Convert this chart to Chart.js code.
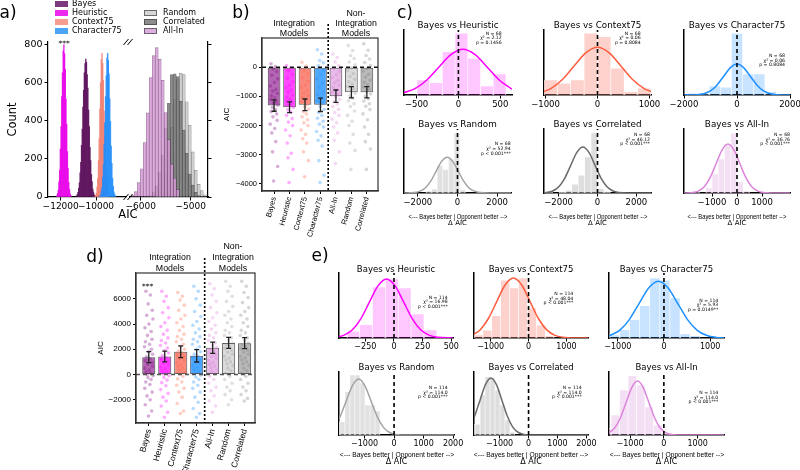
<!DOCTYPE html>
<html><head><meta charset="utf-8">
<script src="https://cdn.jsdelivr.net/npm/chart.js"></script>
<style>
html,body{margin:0;padding:0;background:#fff;}
#root{position:relative;width:800px;height:470px;overflow:hidden;background:#fff;}
canvas{position:absolute;}
.t{position:absolute;white-space:nowrap;line-height:1;color:#000;}
</style></head><body><div id="root"></div>
<script>
// ================= DATA =================
// a) bootstrap AIC histograms (bin centres step, counts)
const aLeftXTicks = [-12000, -10000];
const aRightXTicks = [-6000, -5000];
const aYTicks = [0, 200, 400, 600, 800];
const aBinWidthLeft = 40, aBinWidthRight = 60;
const heuristicFirst = -12220;
const heuristicCounts = [6, 18, 36, 80, 140, 250, 368, 525, 650, 765, 796, 750, 668, 512, 380, 238, 150, 75, 40, 16, 7];
const bayesFirst = -11100;
const bayesCounts = [6, 14, 24, 47, 75, 126, 182, 270, 355, 470, 558, 650, 698, 722, 705, 640, 570, 455, 368, 260, 190, 118, 80, 42, 26, 12, 6];
const context75First = -10060;
const context75Counts = [3, 9, 20, 52, 98, 190, 305, 460, 598, 720, 752, 700, 610, 450, 312, 180, 105, 48, 22, 8, 3];
const character75First = -9780;
const character75Counts = [5, 12, 30, 52, 104, 170, 276, 388, 525, 634, 728, 752, 715, 645, 515, 395, 266, 176, 98, 56, 27, 14, 5];
const allInFirst = -6160;
const allInCounts = [10, 28, 75, 148, 285, 440, 625, 740, 782, 720, 610, 442, 300, 172, 98, 40];
const correlatedFirst = -5800;
const correlatedCounts = [8, 26, 58, 128, 220, 360, 490, 640, 645, 630, 500, 350, 228, 120, 62, 24, 8];
const randomFirst = -5680;
const randomCounts = [10, 30, 72, 132, 245, 365, 510, 615, 647, 640, 498, 375, 236, 140, 66, 34, 12];

// b) / d) model AIC relative values
const modelCats = ['Bayes', 'Heuristic', 'Context75', 'Character75', 'All-In', 'Random', 'Correlated'];
const groupDivider = 3.5;
const baseline = 0;
const bYTicks = [0, -1000, -2000, -3000, -4000];
const bMeans = [-1313, -1370, -1290, -1290, -993, -856, -856];
const bErr = [195, 183, 200, 228, 212, 194, 194];
const bBayes = [120, 20, -60, -150, -280, -400, -520, -640, -760, -820, -900, -980, -1050, -1100, -1180, -1240, -1300, -1380, -1450, -1520, -1600, -1700, -1820, -1950, -2100, -2250, -2550, -2900, -3400, -3900];
const bHeuristic = [60, -30, -120, -250, -380, -500, -620, -700, -780, -850, -950, -1020, -1100, -1160, -1220, -1300, -1380, -1460, -1540, -1650, -1760, -1880, -2000, -2150, -2350, -2600, -2950, -3100, -3500, -3950];
const bContext75 = [170, 40, -100, -230, -360, -480, -600, -700, -800, -880, -960, -1040, -1120, -1200, -1280, -1350, -1430, -1520, -1600, -1700, -1800, -1900, -2000, -2150, -2300, -2450, -2600, -2900, -3200, -3750];
const bCharacter75 = [600, 450, 230, 150, 50, -100, -250, -400, -550, -700, -850, -950, -1050, -1150, -1250, -1350, -1450, -1550, -1650, -1750, -1850, -1950, -2050, -2200, -2350, -2500, -2700, -3200, -3700, -3950];
const bAllIn = [450, 330, 180, 60, -50, -150, -260, -360, -450, -530, -620, -700, -780, -860, -940, -1020, -1100, -1180, -1260, -1350, -1450, -1550, -1650, -1780, -1900, -2050, -2250, -2500, -2900, -3300];
const bRandom = [740, 570, 400, 300, 180, 80, -20, -120, -220, -320, -420, -500, -580, -660, -740, -820, -900, -980, -1060, -1150, -1250, -1350, -1500, -1650, -1850, -2000, -2300, -2600, -2850, -3500];
const bCorrelated = [800, 580, 400, 280, 160, 60, -40, -140, -240, -340, -440, -520, -600, -680, -760, -840, -920, -1000, -1080, -1160, -1250, -1340, -1450, -1600, -1800, -2050, -2300, -2550, -2800, -3500];
const bJitter = [-0.2, 0.08, -0.05, 0.18, -0.14, 0.23, 0.02, -0.24, 0.12, -0.09, 0.21, -0.17, 0.05, -0.22, 0.15, -0.02, 0.24, -0.11, 0.09, -0.19, 0.17, -0.07, 0.2, -0.25, 0.04, -0.15, 0.11, -0.1, 0.23, -0.03];

const dYTicks = [-2000, 0, 2000, 4000, 6000];
const dMeans = [1376, 1429, 1800, 1480, 2120, 2500, 2480];
const dErr = [436, 423, 463, 490, 450, 437, 437];
const dBayes = [6600, 6300, 5600, 5100, 4700, 4400, 4000, 3700, 3400, 3100, 2800, 2600, 2400, 2200, 2000, 1800, 1600, 1400, 1250, 1100, 950, 800, 650, 500, 350, 200, 100, 0, -100, -250, -400, -600, -800, -1100, -1400, -1700, -2000, -2400, -2900, -3300];
const dHeuristic = [6600, 6200, 5800, 5300, 4900, 4500, 4100, 3800, 3500, 3200, 2900, 2700, 2500, 2300, 2100, 1900, 1700, 1500, 1350, 1200, 1050, 900, 750, 600, 450, 300, 150, 50, -100, -250, -450, -650, -900, -1200, -1500, -1800, -2100, -2500, -3000, -3400];
const dContext75 = [6500, 6200, 5900, 5500, 5100, 4700, 4400, 4100, 3800, 3500, 3200, 3000, 2800, 2600, 2400, 2200, 2000, 1850, 1700, 1550, 1400, 1250, 1100, 950, 800, 650, 500, 350, 200, 50, -150, -350, -600, -850, -1100, -1400, -1800, -2300, -2900, -3100];
const dCharacter75 = [7000, 6600, 6000, 5500, 5000, 4600, 4200, 3900, 3600, 3300, 3000, 2800, 2600, 2400, 2200, 2000, 1800, 1600, 1450, 1300, 1150, 1000, 850, 700, 550, 400, 250, 100, -50, -200, -400, -600, -850, -1100, -1400, -1800, -2200, -2700, -3100, -3400];
const dAllIn = [7200, 6800, 6300, 5800, 5300, 4900, 4500, 4200, 3900, 3600, 3300, 3100, 2900, 2700, 2500, 2300, 2150, 2000, 1850, 1700, 1550, 1400, 1250, 1100, 950, 800, 650, 500, 350, 200, 50, -150, -400, -700, -1000, -1300, -1700, -2100, -2500, -3000];
const dRandom = [7400, 7000, 6600, 6200, 5800, 5400, 5000, 4700, 4400, 4100, 3800, 3500, 3300, 3100, 2900, 2700, 2500, 2350, 2200, 2050, 1900, 1750, 1600, 1450, 1300, 1150, 1000, 850, 700, 500, 300, 100, -150, -400, -700, -1000, -1300, -1600, -2000, -2400];
const dCorrelated = [7400, 7000, 6500, 6100, 5700, 5300, 5000, 4700, 4400, 4100, 3800, 3500, 3300, 3100, 2900, 2700, 2500, 2350, 2200, 2050, 1900, 1750, 1600, 1450, 1300, 1150, 1000, 850, 700, 500, 300, 100, -150, -400, -700, -1000, -1300, -1600, -1900, -2100];
const dJitter = [-0.18, 0.1, -0.04, 0.22, -0.13, 0.26, 0.01, -0.24, 0.15, -0.08, 0.2, -0.21, 0.05, -0.27, 0.17, -0.01, 0.24, -0.15, 0.08, -0.23, 0.19, -0.06, 0.23, -0.26, 0.03, -0.17, 0.12, -0.1, 0.27, -0.05, 0.14, -0.19, 0.07, -0.25, 0.21, -0.11, 0.09, -0.22, 0.18, -0.02];

// c) / e) pairwise delta-AIC histograms with normal fits
const compNames = ['Heuristic', 'Context75', 'Character75', 'Random', 'Correlated', 'All-In'];
const refX = 0;
const cXRange = [[-650, 640], [-1030, 1030], [-2000, 2000], [-2700, 2700], [-2750, 2750], [-2120, 2120]];
const cXTicks = [[-500, 0, 500], [-1000, 0, 1000], [-2000, 0, 2000], [-2000, 0, 2000], [-2000, 0, 2000], [-1000, 0, 1000]];
const cBinFirst = [-420, -900, -1680, -2308.5, -2475, -1625];
const cBinWidth = [152, 257, 420, 285, 330, 250];
const cHeights1 = [15, 12.3, 43.3, 61.7, 36.7, 9, 21];
const cHeights2 = [15, 11.7, 15, 61.7, 58.3, 26.7, 3.3, 6.7];
const cHeights3 = [1.7, 1.7, 9, 7.7, 61.7, 21, 21, 3.3];
const cHeights4 = [1, 0, 0, 2, 4, 27.5, 23.5, 34, 60, 3];
const cHeights5 = [1.7, 0, 1, 2.7, 8.7, 17.7, 36, 60, 4.3, 1.5];
const cHeights6 = [1.7, 0, 5, 19, 34, 49, 60, 11, 2];
const cFitX1 = [-650, -525, -380, -235, -90, 55, 200, 345, 490, 640];
const cFitY1 = [2.4, 6.2, 14.8, 27.7, 40.3, 45.7, 40.3, 27.7, 14.8, 5.9];
const cFitX2 = [-1030, -900, -675, -450, -225, 0, 225, 450, 675, 900, 1030];
const cFitY2 = [3.5, 6.4, 15.5, 29, 42.1, 47.7, 42.1, 29, 15.5, 6.4, 3.5];
const cFitX3 = [-2000, -1500, -1000, -750, -500, -250, 0, 250, 500, 750, 1000, 1500, 2000];
const cFitY3 = [0, 0.3, 4.2, 10.1, 18.8, 27.4, 31, 27.4, 18.8, 10.1, 4.2, 0.3, 0];
const cFitX4 = [-2700, -2200, -1920, -1640, -1360, -1080, -800, -520, -240, 40, 320, 600, 880, 1160, 1600, 2700];
const cFitY4 = [0, 0.4, 1.6, 4.8, 11.6, 21.7, 31.6, 35.8, 31.6, 21.7, 11.6, 4.8, 1.6, 0.4, 0, 0];
const cFitX5 = [-2750, -2610, -2300, -1990, -1680, -1370, -1060, -750, -440, -130, 180, 490, 800, 1110, 1500, 2750];
const cFitY5 = [0.2, 0.5, 2, 6.2, 14.9, 27.9, 40.6, 46, 40.6, 27.9, 14.9, 6.2, 2, 0.5, 0, 0];
const cFitX6 = [-2120, -1770, -1535, -1300, -1065, -830, -595, -360, -125, 110, 345, 580, 815, 1050, 1400, 2120];
const cFitY6 = [0, 0.5, 2.2, 6.6, 15.9, 29.7, 43.2, 49, 43.2, 29.7, 15.9, 6.6, 2.2, 0.5, 0, 0];
const cN = ['68', '68', '68', '68', '68', '68'];
const cChi = ['2.12', '0.06', '0.06', '52.94', '46.12', '36.76'];
const cP = ['p = 0.1456', 'p = 0.8084', 'p = 0.8084', 'p < 0.001***', 'p < 0.001***', 'p < 0.001***'];

const eXRange = [[-480, 515], [-1440, 1570], [-1190, 1300], [-1865, 2030], [-1886, 2055], [-1623, 1780]];
const eXTicks = [[-250, 0, 250, 500], [-1000, 0, 1000], [-1000, 0, 1000], [-1000, 0, 1000, 2000], [-1000, 0, 1000, 2000], [-1000, 0, 1000]];
const eBinFirst = [-355, -1322.5, -1069, -1920, -1934, -1685];
const eBinWidth = [112, 235, 218, 170, 172, 250];
const eHeights1 = [6.7, 13.3, 51, 59, 50, 24, 8];
const eHeights2 = [3, 7.7, 22.3, 57.7, 50, 60, 30, 12.7, 2];
const eHeights3 = [3, 8.3, 18.3, 32.3, 60, 57.7, 40, 4.3, 2.3];
const eHeights4 = [13.3, 13.3, 43.3, 60, 60, 52, 30, 30, 24];
const eHeights5 = [10.7, 10.7, 40, 58.3, 56.7, 45, 30, 15, 2.7];
const eHeights6 = [6.7, 20, 45, 59.3, 50, 28, 10, 1.5];
const eFitX1 = [-480, -440, -365, -290, -215, -140, -65, 10, 85, 160, 235, 310, 385, 515];
const eFitY1 = [1.3, 2.6, 8, 19.2, 35.8, 52.1, 59, 52.1, 35.8, 19.2, 8, 2.6, 0.7, 0];
const eFitX2 = [-1440, -1280, -1060, -840, -620, -400, -180, 40, 260, 480, 700, 920, 1140, 1570];
const eFitY2 = [3.7, 8.1, 19.5, 36.4, 53, 60, 53, 36.4, 19.5, 8.1, 2.6, 0.7, 0.1, 0];
const eFitX3 = [-1190, -960, -750, -540, -330, -120, 90, 300, 510, 720, 930, 1140, 1300];
const eFitY3 = [2.2, 7.7, 18.4, 34.4, 50, 56.7, 50, 34.4, 18.4, 7.7, 2.5, 0.6, 0.2];
const eFitX4 = [-1865, -1830, -1620, -1410, -1200, -990, -780, -570, -360, -150, 60, 400, 2030];
const eFitY4 = [16, 18.2, 34, 49.4, 56, 49.4, 34, 18.2, 7.6, 2.5, 0.6, 0, 0];
const eFitX5 = [-1886, -1870, -1680, -1490, -1300, -1110, -920, -730, -540, -350, -160, 200, 2055];
const eFitY5 = [17.4, 18.5, 34.6, 50.3, 57, 50.3, 34.6, 18.5, 7.7, 2.5, 0.6, 0, 0];
const eFitX6 = [-1623, -1448, -1281, -1114, -947, -780, -613, -446, -279, -112, 55, 222, 389, 1780];
const eFitY6 = [2.2, 7.3, 17.5, 32.8, 47.7, 54, 47.7, 32.8, 17.5, 7.3, 2.4, 0.6, 0.1, 0];
const eN = ['114', '114', '114', '114', '114', '114'];
const eChi = ['16.98', '48.04', '5.93', '114.0', '114.0', '114.0'];
const eP = ['p < 0.001***', 'p < 0.001***', 'p = 0.0149**', 'p < 0.001***', 'p < 0.001***', 'p < 0.001***'];

// ================= STYLE / LAYOUT =================
const root = document.getElementById('root');
const DV = '"DejaVu Sans", sans-serif';
const LS = '"Liberation Sans", Arial, sans-serif';
const NARROW = '"Liberation Sans Narrow", "Liberation Sans", sans-serif';
Chart.defaults.font.family = DV;
Chart.defaults.color = '#000';
const minus = v => (v < 0 ? '\u2212' : '') + Math.abs(v);

function txt(s, x, y, size, o = {}) {
  const d = document.createElement('div');
  d.className = 't';
  d.textContent = s;
  d.style.fontSize = size + 'px';
  d.style.fontFamily = o.font || DV;
  if (o.weight) d.style.fontWeight = o.weight;
  d.style.left = x + 'px';
  d.style.top = y + 'px';
  root.appendChild(d);
  const a = o.anchor || 'c';
  const tx = a === 'l' ? '0' : a === 'r' ? '-100%' : '-50%';
  let sx = 1;
  if (o.fitW) { const w = d.offsetWidth; if (w > 0) sx = o.fitW / w; }
  d.style.transformOrigin = a === 'l' ? 'left center' : a === 'r' ? 'right center' : 'center center';
  d.style.transform = `translate(${tx},-50%)` + (sx !== 1 ? ` scaleX(${sx})` : '');
  return d;
}
function patch(x, y, w, h, bg, border) {
  const d = document.createElement('div');
  Object.assign(d.style, {position: 'absolute', left: x + 'px', top: y + 'px', width: w + 'px', height: h + 'px',
    background: bg, boxSizing: 'border-box', border: border ? '1px solid ' + border : 'none'});
  root.appendChild(d);
}

function mk(rect, m, datasets, scales, plugins = []) {
  const [x0, y0, x1, y1] = rect;
  const W = x1 - x0 + m.l + m.r, H = y1 - y0 + m.t + m.b;
  const c = document.createElement('canvas');
  c.width = W; c.height = H;
  Object.assign(c.style, {left: (x0 - m.l) + 'px', top: (y0 - m.t) + 'px', width: W + 'px', height: H + 'px'});
  root.appendChild(c);
  let hasL = false, hasR = false, hasB = false;
  for (const k in scales) {
    const s = scales[k];
    const pos = s.position;
    if (pos === 'left') hasL = true;
    if (pos === 'right') hasR = true;
    if (pos === 'bottom') hasB = true;
    s.afterFit = sc => {
      if (pos === 'bottom') sc.height = m.b;
      else if (pos === 'left') sc.width = m.l;
      else if (pos === 'right') sc.width = m.r;
      sc.paddingLeft = 0; sc.paddingRight = 0; sc.paddingTop = 0; sc.paddingBottom = 0;
    };
  }
  return new Chart(c, {
    type: 'bar',
    data: {datasets},
    options: {
      responsive: false, animation: false, devicePixelRatio: 1, events: [],
      layout: {padding: {left: hasL ? 0 : m.l, right: hasR ? 0 : m.r, top: m.t, bottom: hasB ? 0 : m.b}},
      plugins: {legend: {display: false}, tooltip: {enabled: false}, title: {display: false}},
      scales
    },
    plugins
  });
}

function xAxis(min, max, ticks, o = {}) {
  return {type: 'linear', position: 'bottom', min, max, offset: false,
    afterBuildTicks: s => { s.ticks = ticks.map(v => ({value: v})); },
    ticks: {autoSkip: false, maxRotation: o.rot || 0, minRotation: o.rot || 0, padding: o.pad ?? 1, color: '#000',
      font: {family: o.font || DV, size: o.size || 9}, callback: o.cb || (v => minus(v))},
    grid: {display: true, drawOnChartArea: false, drawTicks: true, tickLength: o.tl ?? 3.5, color: o.tc || '#000', lineWidth: 1, offset: false},
    border: {display: true, color: o.bc || '#000', width: o.bw ?? 1.2}
  };
}
function yAxis(min, max, ticks, o = {}) {
  return {type: 'linear', position: o.pos || 'left', min, max,
    afterBuildTicks: s => { s.ticks = ticks.map(v => ({value: v})); },
    ticks: {autoSkip: false, padding: o.pad ?? 2, color: '#000', font: {family: o.font || DV, size: o.size || 9},
      callback: o.cb || (v => minus(v))},
    grid: {display: true, drawOnChartArea: false, drawTicks: true, tickLength: o.tl ?? 3.5, color: o.tc || '#000', lineWidth: 1},
    border: {display: true, color: o.bc || '#000', width: o.bw ?? 1.2},
    title: o.title ? {display: true, text: o.title, color: '#000', font: {family: o.tfont || DV, size: o.tsize || 9},
      padding: {top: o.tpad ?? 2, bottom: 0}} : {display: false}
  };
}
function yHidden(max) {
  return {type: 'linear', position: 'left', min: 0, max,
    ticks: {display: false}, grid: {display: false}, border: {display: true, color: '#000', width: 1.5}};
}
function histDS(first, width, counts, bg, bc, bw, order) {
  return {type: 'bar', data: counts.map((c, i) => ({x: first + i * width, y: c})),
    backgroundColor: bg, borderColor: bc, borderWidth: bw, borderSkipped: 'start',
    barPercentage: 1, categoryPercentage: 1, grouped: false, order};
}

// ================= PANEL a =================
const breakMarks = side => ({id: 'brk' + side, afterDraw(chart) {
  const {ctx, chartArea: ca} = chart;
  const x = side === 'right' ? ca.right : ca.left;
  ctx.save(); ctx.strokeStyle = '#000'; ctx.lineWidth = 1;
  [ca.top, ca.bottom].forEach(y => { ctx.beginPath(); ctx.moveTo(x - 2.5, y + 3); ctx.lineTo(x + 2.5, y - 3); ctx.stroke(); });
  ctx.restore();
}});

mk([48, 42, 126, 197], {l: 48, t: 6, r: 4, b: 22}, [
  histDS(heuristicFirst, aBinWidthLeft, heuristicCounts, 'rgba(232,0,232,0.88)', 'rgba(0,0,0,0)', 0, 3),
  histDS(bayesFirst, aBinWidthLeft, bayesCounts, 'rgba(92,18,92,0.92)', 'rgba(0,0,0,0)', 0, 2),
  histDS(context75First, aBinWidthLeft, context75Counts, 'rgba(240,128,114,0.88)', 'rgba(0,0,0,0)', 0, 1),
  histDS(character75First, aBinWidthLeft, character75Counts, 'rgba(30,140,250,0.85)', 'rgba(0,0,0,0)', 0, 0)
], {
  x: xAxis(-12720, -8300, aLeftXTicks, {size: 9}),
  y: yAxis(0, 811, aYTicks, {size: 9.5, title: 'Count', tsize: 11.5, tpad: 6})
}, [breakMarks('right')]);

mk([130, 42, 208, 197], {l: 4, t: 6, r: 8, b: 22}, [
  histDS(randomFirst, aBinWidthRight, randomCounts, 'rgba(205,205,205,0.85)', 'rgba(60,60,60,0.55)', 0.6, 2),
  histDS(correlatedFirst, aBinWidthRight, correlatedCounts, 'rgba(125,125,125,0.85)', 'rgba(30,30,30,0.55)', 0.6, 1),
  histDS(allInFirst, aBinWidthRight, allInCounts, 'rgba(215,160,215,0.85)', 'rgba(80,30,80,0.55)', 0.6, 0)
], {
  x: xAxis(-6215, -4655, aRightXTicks, {size: 9}),
  y: yAxis(0, 811, aYTicks, {pos: 'right', cb: () => ''})
}, [breakMarks('left')]);

txt('AIC', 128, 215, 11.5);
txt('***', 64, 44, 7.5);
// legend
[['Bayes', 3.5, 'rgba(112,34,112,0.9)'], ['Heuristic', 12.7, 'rgba(236,30,236,0.95)'],
 ['Context75', 21.7, 'rgba(244,152,138,0.95)'], ['Character75', 30.7, 'rgba(64,160,245,0.95)']].forEach(([n, y, c]) => {
  patch(55, y - 3, 13, 6, c); txt(n, 72, y, 8, {anchor: 'l'});
});
[['Random', 12.7, '#d6d6d6'], ['Correlated', 21.7, '#8e8e8e'], ['All-In', 30.7, '#dcb0dc']].forEach(([n, y, c]) => {
  patch(144, y - 3, 13, 6, c, 'rgba(60,60,60,0.7)'); txt(n, 163, y, 8, {anchor: 'l'});
});

// ================= PANELS b / d =================
const catFill = ['rgba(128,0,128,0.6)', 'rgba(255,0,255,0.72)', 'rgba(250,128,114,0.92)', 'rgba(30,144,255,0.78)',
  'rgba(221,160,221,0.7)', 'rgba(211,211,211,0.8)', 'rgba(169,169,169,0.8)'];
const catDot = ['rgba(128,0,128,0.32)', 'rgba(255,0,255,0.32)', 'rgba(255,99,71,0.32)', 'rgba(30,144,255,0.32)',
  'rgba(218,112,214,0.28)', 'rgba(150,150,150,0.3)', 'rgba(120,120,120,0.3)'];

function barPanelPlugin(means, errs, above) {
  return {
    id: 'bp',
    afterDatasetsDraw(chart) {
      const {ctx, scales: {x, y}} = chart;
      ctx.save(); ctx.strokeStyle = '#222'; ctx.lineWidth = 1.3;
      means.forEach((mv, i) => {
        const px = x.getPixelForValue(i);
        const y1 = y.getPixelForValue(mv - errs[i]), y2 = y.getPixelForValue(mv + errs[i]);
        ctx.beginPath();
        ctx.moveTo(px, y1); ctx.lineTo(px, y2);
        ctx.moveTo(px - 2.5, y1); ctx.lineTo(px + 2.5, y1);
        ctx.moveTo(px - 2.5, y2); ctx.lineTo(px + 2.5, y2);
        ctx.stroke();
      });
      ctx.restore();
    },
    afterDraw(chart) {
      const {ctx, chartArea: ca, scales: {x}} = chart;
      ctx.save();
      ctx.strokeStyle = '#333'; ctx.lineWidth = 1.2;
      ctx.strokeRect(ca.left, ca.top, ca.right - ca.left, ca.bottom - ca.top);
      const px = x.getPixelForValue(groupDivider);
      ctx.strokeStyle = '#000'; ctx.lineWidth = 1.6; ctx.setLineDash([2, 2]);
      ctx.beginPath(); ctx.moveTo(px, ca.top - above); ctx.lineTo(px, ca.bottom); ctx.stroke();
      ctx.restore();
    }
  };
}
function barPanel(rect, m, xr, yr, yTicks, means, errs, points, jitter, zeroColor, above, o) {
  const ds = [];
  ds.push({type: 'line', data: [{x: xr[0], y: baseline}, {x: xr[1], y: baseline}], borderColor: zeroColor,
    borderWidth: 1.5, borderDash: [4, 3], pointRadius: 0, tension: 0, order: 0});
  points.forEach((arr, ci) => {
    ds.push({type: 'scatter', data: arr.map((v, j) => ({x: ci + jitter[j % jitter.length], y: v})),
      backgroundColor: catDot[ci], borderWidth: 0, pointRadius: 1.8, order: 1});
  });
  ds.push({type: 'bar', data: means.map((v, i) => ({x: i, y: v})), backgroundColor: catFill,
    borderColor: 'rgba(70,70,70,0.9)', borderWidth: 1, borderSkipped: false,
    barPercentage: 0.82, categoryPercentage: 1, order: 2});
  return mk(rect, m, ds, {
    x: xAxis(xr[0], xr[1], [0, 1, 2, 3, 4, 5, 6], {rot: 75, font: LS, size: o.catSize, pad: 2, tl: 3, cb: v => modelCats[v], bc: '#333'}),
    y: yAxis(yr[0], yr[1], yTicks, {font: LS, size: o.tickSize, tl: 3, title: 'AIC', tfont: LS, tsize: 8, tpad: 2, bc: '#333'})
  }, [barPanelPlugin(means, errs, above)]);
}

barPanel([262, 38, 379, 191], {l: 42, t: 16, r: 3, b: 50}, [-0.78, 6.72], [-4240, 1000], bYTicks, bMeans, bErr,
  [bBayes, bHeuristic, bContext75, bCharacter75, bAllIn, bRandom, bCorrelated], bJitter, '#111', 14, {catSize: 7.5, tickSize: 7.5});
barPanel([136, 273, 256, 423], {l: 42, t: 17, r: 3, b: 48}, [-0.8, 6.65], [-3850, 8050], dYTicks, dMeans, dErr,
  [dBayes, dHeuristic, dContext75, dCharacter75, dAllIn, dRandom, dCorrelated], dJitter, '#555', 15, {catSize: 8.5, tickSize: 8});

// group headers
txt('Integration', 294, 22.7, 8.8, {font: LS}); txt('Models', 294, 32.7, 8.8, {font: LS});
txt('Non-', 356, 12.7, 8.8, {font: LS}); txt('Integration', 356, 22.7, 8.8, {font: LS}); txt('Models', 356, 32.7, 8.8, {font: LS});
txt('Integration', 170, 256.7, 8.8, {font: LS}); txt('Models', 170, 267.7, 8.8, {font: LS});
txt('Non-', 233, 246, 8.8, {font: LS}); txt('Integration', 233, 256.7, 8.8, {font: LS}); txt('Models', 233, 267.7, 8.8, {font: LS});
txt('***', 147.5, 287, 7.5);

// ================= PANELS c / e =================
const compFill = ['rgba(255,0,255,0.22)', 'rgba(250,128,114,0.36)', 'rgba(30,144,255,0.25)',
  'rgba(195,195,195,0.5)', 'rgba(190,190,190,0.5)', 'rgba(221,160,221,0.32)'];
const compLine = ['#ff00ff', '#fb5d3e', '#1e90ff', '#a3a3a3', '#6a6a6a', '#dd85dd'];

function histPanel(rect, idx, xr, ticks, first, width, heights, fx, fy, ymax, tickSize) {
  const ds = [
    {type: 'line', data: [{x: refX, y: 0}, {x: refX, y: ymax}], borderColor: '#000', borderWidth: 1.6,
      borderDash: [4, 3], pointRadius: 0, tension: 0, order: 0},
    {type: 'line', data: fx.map((x, i) => ({x, y: fy[i]})), borderColor: compLine[idx], borderWidth: 1.5,
      pointRadius: 0, cubicInterpolationMode: 'monotone', fill: false, order: 1},
    histDS(first, width, heights, compFill[idx], 'rgba(255,255,255,0.75)', 0.6, 2)
  ];
  return mk(rect, {l: 22, t: 3, r: 16, b: 16}, ds, {
    x: xAxis(xr[0], xr[1], ticks, {size: tickSize, pad: 1, bw: 1.5}),
    y: yHidden(ymax)
  });
}

const cRects = [[404, 30, 512, 95], [544, 30, 651, 95], [684, 30, 790, 95], [404, 129, 511, 193], [544, 129, 651, 193], [684, 129, 790, 193]];
const cHeights = [cHeights1, cHeights2, cHeights3, cHeights4, cHeights5, cHeights6];
const cFitX = [cFitX1, cFitX2, cFitX3, cFitX4, cFitX5, cFitX6];
const cFitY = [cFitY1, cFitY2, cFitY3, cFitY4, cFitY5, cFitY6];
const cTitleY = [25, 25, 25, 124.3, 124.3, 124.3];
const cAnn = [[501.7, 33.7], [640.7, 33.7], [785, 56], [510.7, 144.3], [650, 135], [790, 135]];
cRects.forEach((r, i) => {
  histPanel(r, i, cXRange[i], cXTicks[i], cBinFirst[i], cBinWidth[i], cHeights[i], cFitX[i], cFitY[i], r[3] - r[1], 8.5);
  txt('Bayes vs ' + compNames[i], (r[0] + r[2]) / 2, cTitleY[i], 8.8);
  const [ax, ay] = cAnn[i];
  txt('N = ' + cN[i], ax, ay, 4.6, {anchor: 'r'});
  txt('\u03c7\u00b2 = ' + cChi[i], ax, ay + 4.7, 4.6, {anchor: 'r'});
  txt(cP[i], ax, ay + 9.4, 4.6, {anchor: 'r'});
  if (i >= 3) {
    txt('<--- Bayes better | Opponent better -->', (r[0] + r[2]) / 2, 216.8, 6.5, {font: NARROW, fitW: 99});
    txt('\u0394 AIC', (r[0] + r[2]) / 2, 223, 7);
  }
});

const eRects = [[339, 273, 453, 338], [474, 273, 588, 338], [609, 273, 724, 338], [339, 372, 454, 435], [474, 372, 588, 435], [609, 372, 724, 435]];
const eHeights = [eHeights1, eHeights2, eHeights3, eHeights4, eHeights5, eHeights6];
const eFitX = [eFitX1, eFitX2, eFitX3, eFitX4, eFitX5, eFitX6];
const eFitY = [eFitY1, eFitY2, eFitY3, eFitY4, eFitY5, eFitY6];
const eTitleY = [269.3, 269.3, 269.3, 366.7, 366.7, 366.7];
const eAnn = [[447.7, 297.7], [573.3, 294], [718.3, 300.7], [447.7, 388.3], [581.7, 388.3], [718.3, 393.3]];
eRects.forEach((r, i) => {
  histPanel(r, i, eXRange[i], eXTicks[i], eBinFirst[i], eBinWidth[i], eHeights[i], eFitX[i], eFitY[i], r[3] - r[1], 8);
  txt('Bayes vs ' + compNames[i], (r[0] + r[2]) / 2, eTitleY[i], 8.5);
  const [ax, ay] = eAnn[i];
  txt('N = ' + eN[i], ax, ay, 4.6, {anchor: 'r'});
  txt('\u03c7\u00b2 = ' + eChi[i], ax, ay + 4.5, 4.6, {anchor: 'r'});
  txt(eP[i], ax, ay + 9, 4.6, {anchor: 'r'});
  if (i >= 3) {
    txt('<--- Bayes better | Opponent better -->', (r[0] + r[2]) / 2, 454.3, 7, {font: NARROW, fitW: 114});
    txt('\u0394 AIC', (r[0] + r[2]) / 2, 461.7, 8);
  }
});

// panel letters
txt('a)', 8, 12, 17);
txt('b)', 241, 12, 17);
txt('c)', 405, 12, 17);
txt('d)', 95, 256, 17);
txt('e)', 320, 255, 17);
</script></body></html>
